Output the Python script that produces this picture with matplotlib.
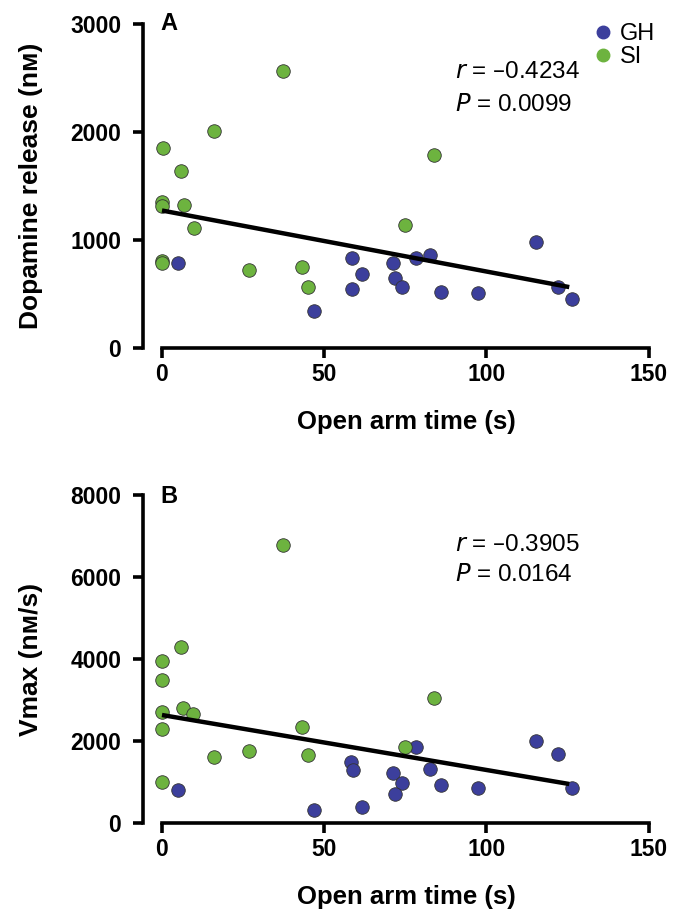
import matplotlib
matplotlib.use("Agg")
import matplotlib.pyplot as plt
import numpy as np

plt.rcParams['font.family'] = ['Liberation Sans', 'DejaVu Sans']

# Open arm time (s)
gh_x = [4.8, 46.8, 58.7, 61.6, 58.4, 71.2, 71.9, 74.1, 78.2, 82.5, 86.1, 97.3, 115.3, 122.1, 126.3]
si_x = [37.2, 16.1, 0.3, 5.9, 0.0, 0.0, 6.7, 9.9, 83.8, 75.0, 0.0, 0.0, 26.8, 43.3, 45.1]

# Panel A: dopamine release (nM)
gh_da = [783, 339, 832, 681, 546, 786, 644, 564, 832, 857, 521, 509, 980, 564, 456]
si_da = [2565, 2010, 1850, 1643, 1350, 1316, 1320, 1110, 1791, 1135, 808, 790, 721, 746, 564]

# Panel B: Vmax (nM/s)
gh_vx_x = [4.8, 46.8, 58.3, 58.8, 61.6, 71.2, 74.1, 71.8, 78.2, 82.5, 86.1, 97.3, 115.3, 122.1, 126.3]
gh_vmax = [805, 317, 1488, 1285, 382, 1211, 976, 699, 1854, 1317, 927, 862, 2008, 1675, 846]
si_vx_x = [37.2, 5.9, 0.0, 0.0, 0.0, 6.5, 9.7, 0.0, 43.2, 83.8, 16.1, 26.8, 45.1, 75.0, 0.0]
si_vmax = [6780, 4293, 3951, 3496, 2715, 2805, 2659, 2285, 2341, 3049, 1602, 1764, 1650, 1862, 992]

# Regression line endpoints (x, y)
fit_x = [0, 125.5]
fit_a = [1273, 564]
fit_b = [2634, 951]

stats_a = ["r = \u20130.4234", "P = 0.0099"]
stats_b = ["r = \u20130.3905", "P = 0.0164"]

GH_COL = '#3c3f9c'
SI_COL = '#6db33f'
EDGE = '#333333'

W, H = 680, 924
fig = plt.figure(figsize=(W / 100, H / 100), dpi=100)

def px_axes(left, top, right, bottom):
    return fig.add_axes([left / W, 1 - bottom / H, (right - left) / W, (bottom - top) / H])

def style(ax, ymax, yticks, ylabel):
    ax.set_xlim(-5.85, 151)
    ax.set_ylim(0, ymax)
    for s in ['top', 'right']:
        ax.spines[s].set_visible(False)
    ax.spines['left'].set_linewidth(2.6)
    ax.spines['bottom'].set_linewidth(2.6)
    ax.spines['bottom'].set_bounds(0, 150)
    ax.spines['left'].set_bounds(0, ymax)
    ax.set_xticks([0, 50, 100, 150])
    ax.set_yticks(yticks)
    ax.tick_params(width=2.6, length=7.2, labelsize=16.5)
    ax.tick_params(axis='x', pad=3.4)
    ax.tick_params(axis='y', pad=8.5)
    for lab in ax.get_xticklabels() + ax.get_yticklabels():
        lab.set_fontweight('bold')
    ax.set_xlabel('Open arm time (s)', fontsize=18.5, fontweight='bold', va='center')
    ax.set_ylabel(ylabel, fontsize=19, fontweight='bold', va='center')
    bb = ax.get_position()
    hpx = bb.height * H
    ax.xaxis.set_label_coords((406 - 143) / 509, -74 / hpx)
    ax.yaxis.set_label_coords((31 - 143) / 509, 0.5)
    ax.patch.set_alpha(0)

# Panel A
axA = px_axes(143, 24, 652, 348)
axA.scatter(gh_x, gh_da, s=95, c=GH_COL, edgecolors=EDGE, linewidths=0.6, zorder=3, clip_on=False)
axA.scatter(si_x, si_da, s=95, c=SI_COL, edgecolors=EDGE, linewidths=0.6, zorder=3, clip_on=False)
axA.plot(fit_x, fit_a, color='black', lw=3.2, zorder=4, solid_capstyle='butt')
style(axA, 3000, [0, 1000, 2000, 3000], 'Dopamine release (n\u1d0d)')

# Panel B
axB = px_axes(143, 495, 652, 823)
axB.scatter(gh_vx_x, gh_vmax, s=95, c=GH_COL, edgecolors=EDGE, linewidths=0.6, zorder=3, clip_on=False)
axB.scatter(si_vx_x, si_vmax, s=95, c=SI_COL, edgecolors=EDGE, linewidths=0.6, zorder=3, clip_on=False)
axB.plot(fit_x, fit_b, color='black', lw=3.2, zorder=4, solid_capstyle='butt')
style(axB, 8000, [0, 2000, 4000, 6000, 8000], 'Vmax (n\u1d0d/s)')

# Panel letters
fig.text(160 / W, 1 - 24 / H, 'A', fontsize=17, fontweight='bold', va='center', ha='left')
fig.text(160 / W, 1 - 497 / H, 'B', fontsize=17, fontweight='bold', va='center', ha='left')

# Stats text
def stats(lines, y1, y2):
    r, p = lines
    fig.text(455 / W, 1 - y1 / H, r'$\mathit{r}$' + r[1:], fontsize=17.5, va='center', ha='left')
    fig.text(455 / W, 1 - y2 / H, r'$\mathit{P}$' + p[1:], fontsize=17.5, va='center', ha='left')

stats(stats_a, 72, 105)
stats(stats_b, 545, 575)

# Legend
lg = fig.legend(handles=[
    plt.Line2D([], [], marker='o', ls='', color=GH_COL, markersize=9, label='GH'),
    plt.Line2D([], [], marker='o', ls='', color=SI_COL, markersize=9, label='SI')],
    loc='upper left', bbox_to_anchor=(579 / W, 1 - 11 / H), frameon=False,
    fontsize=17, handletextpad=0.25, labelspacing=0.05, borderpad=0, handlelength=1.0)

fig.savefig('out.png', dpi=100)
